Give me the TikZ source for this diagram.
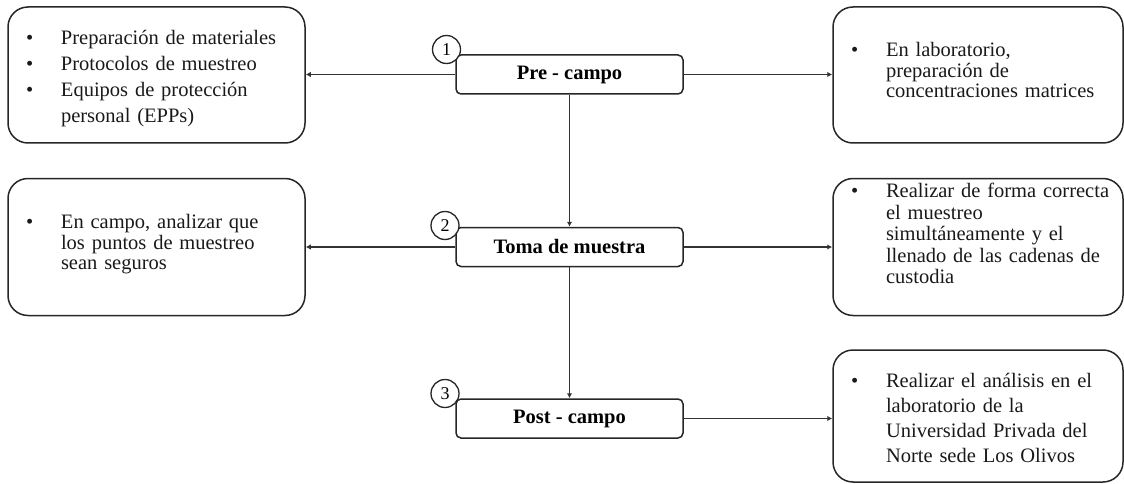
\documentclass[tikz,border=0pt]{standalone}
\usepackage{fontspec}
\setmainfont{Liberation Serif}
\usetikzlibrary{arrows.meta,positioning}
\newcommand{\blt}{\hspace*{6pt}\makebox[35pt][l]{\textbullet}}
\newcommand{\ind}{\hspace*{41pt}}

\begin{document}
\begin{tikzpicture}[x=1pt,y=-1pt,
	etapa/.style={rectangle, draw=black!85, line width=1.5pt, rounded corners=5pt, fill=white,
		minimum width=227pt, minimum height=39pt, font=\fontsize{20.5}{22}\selectfont\bfseries},
	nota/.style={rectangle, draw=black!85, line width=1.5pt, rounded corners=20pt, align=left,
		inner xsep=12pt, inner ysep=0pt, text=black!90},
	izq/.style={nota, minimum width=297pt, text width=273pt},
	der/.style={nota, minimum width=290pt, text width=266pt},
	num/.style={circle, draw=black!85, line width=1.3pt, fill=white, minimum size=28pt,
		inner sep=0pt, font=\fontsize{18}{18}\selectfont},
	flecha/.style={draw=black!80, line width=1.5pt, -{Latex[length=5pt,width=5.5pt]}}]
\useasboundingbox (0,0) rectangle (1124,484);
\node [etapa] (pre) at (569.5,74.5) {Pre - campo};
\node [etapa] (toma) at (569.5,247) {Toma de muestra};
\node [etapa] (post) at (569.5,418.5) {Post - campo};
\node [izq, text height=38pt, text depth=98pt, font=\fontsize{20.5}{26}\selectfont] (mat) at (156.5,75)
	{\blt Preparación de materiales\\ \blt Protocolos de muestreo\\ \blt Equipos de protección\\ \ind personal (EPPs)};
\node [der, text height=50pt, text depth=86pt, font=\fontsize{20.5}{20.5}\selectfont] (lab) at (978,75)
	{\blt En laboratorio,\\ \ind preparación de\\ \ind concentraciones matrices};
\node [izq, text height=50pt, text depth=87pt, font=\fontsize{20.5}{20.5}\selectfont] (seg) at (156.5,247)
	{\blt En campo, analizar que\\ \ind los puntos de muestreo\\ \ind sean seguros};
\node [der, text height=19pt, text depth=118pt, font=\fontsize{20.5}{21.5}\selectfont] (mue) at (978,247)
	{\blt Realizar de forma correcta\\ \ind el muestreo\\ \ind simultáneamente y el\\ \ind llenado de las cadenas de\\ \ind custodia};
\node [der, text height=37pt, text depth=95pt, font=\fontsize{20.5}{25}\selectfont] (ana) at (978,416)
	{\blt Realizar el análisis en el\\ \ind laboratorio de la\\ \ind Universidad Privada del\\ \ind Norte sede Los Olivos};
\node [num] (n1) at (446.5,49.5) {1};
\node [num] (n2) at (445,225.5) {2};
\node [num] (n3) at (445,393.5) {3};
\draw [flecha] (pre) -- (pre -| mat.east);
\draw [flecha] (pre) -- (pre -| lab.west);
\draw [flecha] (pre) -- (toma);
\draw [flecha] (toma) -- (seg);
\draw [flecha] (toma) -- (mue);
\draw [flecha] (toma) -- (post);
\draw [flecha] (post) -- (post -| ana.west);
\end{tikzpicture}
\end{document}
